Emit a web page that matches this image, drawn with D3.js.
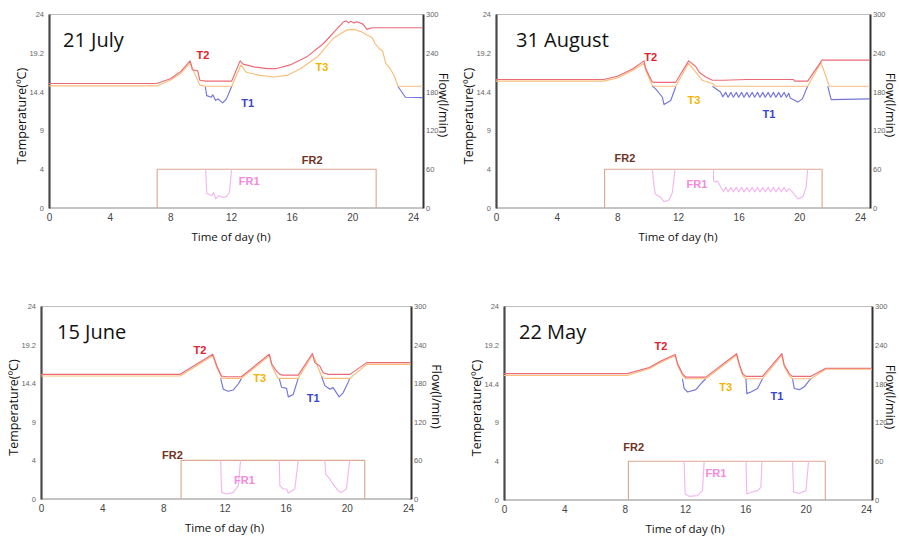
<!DOCTYPE html>
<html>
<head>
<meta charset="utf-8">
<script src="https://cdn.jsdelivr.net/npm/d3@7"></script>
<style>
  body { margin: 0; background: #fff; }
  svg { display: block; }
</style>
</head>
<body>
<svg id="chart" width="899" height="538"></svg>
<script>
// ---- shared ticks ----
const hourTicks = [0, 4, 8, 12, 16, 20, 24];
const tempTicks = [0, 4.8, 9.6, 14.4, 19.2, 24];
const tempTickLabels = ['0', '4', '9', '14.4', '19.2', '24'];
const flowTicks = [0, 60, 120, 180, 240, 300];

// ---- 21 July ----  [hour, value], null = gap
const julT2 = [[0,15.4],[7.1,15.4],[8,16.0],[8.7,16.9],[9.3,18.2],[9.4,17.6],[9.45,17.1],[9.8,17.0],[9.95,15.8],[10.3,15.7],[12.05,15.7],[12.6,18.2],[12.8,17.8],[13.5,17.46],[14.35,17.25],[15,17.25],[15.9,17.7],[17,18.7],[18.1,20.35],[19,22.2],[19.4,23.0],[19.6,23.15],[19.75,22.9],[19.9,23.1],[20.1,22.9],[20.3,23.05],[20.7,22.75],[20.96,22.1],[21.3,22.3],[24.65,22.3]];
const julT3 = [[0,15.1],[7.1,15.1],[8,15.8],[8.7,16.7],[9.3,17.9],[9.45,17.3],[9.95,15.2],[10.3,15.06],[12.05,15.06],[12.65,17.7],[13.0,16.8],[13.9,16.4],[14.8,16.2],[15.7,16.4],[16.6,17.25],[17.7,18.7],[18.75,21.0],[19.6,22.0],[20.1,22.1],[20.6,21.8],[20.96,21.4],[21.3,21.1],[21.5,20.35],[21.8,19.7],[22.0,19.4],[22.2,17.9],[22.5,17.25],[22.8,16.2],[23.0,15.06],[24.65,15.06]];
const julT1 = [[10.3,15.06],[10.4,13.9],[10.7,13.7],[10.8,14.0],[10.98,13.3],[11.15,13.5],[11.45,13.0],[11.7,13.5],[12.05,15.06],null,[23.0,15.06],[23.5,13.7],[24.65,13.65]];
const julFR2 = [[7.13,0],[7.13,60],[21.57,60],[21.57,0]];
const julFR1 = [[10.33,60],[10.4,22.8],[10.73,19],[10.84,24],[11.0,14],[11.2,19],[11.45,16.5],[11.7,17.5],[11.9,24],[12.04,60]];

// ---- 31 August ----
const augT2 = [[0,15.9],[7.1,15.9],[8,16.3],[9,17.2],[9.76,18.2],[9.87,17.25],[10.3,15.6],[10.4,15.55],[11.85,15.55],[12.7,18.2],[13.17,17.5],[13.4,16.8],[13.83,16.2],[14.27,15.8],[15,15.8],[16.5,15.9],[19.6,15.9],[19.7,15.7],[20.55,15.7],[21.5,18.3],[24.65,18.3]];
const augT3 = [[0,15.7],[7.1,15.7],[8,16.1],[9,17.0],[9.76,17.9],[9.87,17.0],[10.3,15.2],[10.4,15.06],[11.85,15.06],[12.7,17.9],[13.17,16.8],[13.6,15.8],[14.27,15.4],[14.5,15.06],[20.55,15.06],[21.43,18.0],[21.98,15.06],[24.65,15.06]];
const augT1 = [[10.3,15.06],[10.5,14.8],[10.97,13.7],[11.08,12.8],[11.52,13.3],[11.85,15.0],null,
  [14.27,15.06],[14.8,14.35],[14.95,13.75],[15.15,14.3],[15.3,13.7],[15.5,14.3],[15.65,13.7],[15.85,14.3],[16.0,13.7],[16.2,14.3],[16.35,13.7],[16.55,14.3],[16.7,13.7],[16.9,14.3],[17.05,13.7],[17.25,14.3],[17.4,13.7],[17.6,14.3],[17.75,13.7],[17.95,14.3],[18.1,13.7],[18.3,14.3],[18.45,13.7],[18.65,14.3],[18.8,13.7],[19.0,14.3],[19.15,13.7],[19.3,14.2],[19.4,13.6],[19.9,13.1],[20.2,13.5],[20.55,15.06],null,
  [21.87,15.06],[22.1,13.4],[24.65,13.5]];
const augFR2 = [[7.16,0],[7.16,60],[21.5,60],[21.5,0]];
const augFR1 = [[10.3,60],[10.4,37],[10.5,21.7],[10.85,16.5],[11.08,9.8],[11.41,12.4],[11.63,24],[11.8,60],null,
  [14.34,60],[14.34,42],[14.5,40],[14.6,42],[14.83,32],[15.0,25],[15.15,32],[15.3,25],[15.5,32],[15.65,25],[15.85,32],[16.0,25],[16.2,32],[16.35,25],[16.55,32],[16.7,25],[16.9,32],[17.05,25],[17.25,32],[17.4,25],[17.6,32],[17.75,25],[17.95,32],[18.1,25],[18.3,32],[18.45,25],[18.65,32],[18.8,25],[19.0,32],[19.15,25],[19.3,30],[19.5,26],[19.9,14],[20.23,17.6],[20.45,32],[20.55,60]];

// ---- 15 June ----
const junT2 = [[0,15.5],[9.1,15.5],[11.23,18.0],[11.5,16.55],[11.8,15.3],[12.1,15.2],[13.1,15.2],[14.93,18.0],[15.1,16.75],[15.4,15.9],[15.62,15.5],[15.8,15.4],[16.82,15.4],[17.75,18.1],[17.9,16.96],[18.23,16.55],[18.45,15.7],[18.78,15.5],[20.2,15.5],[21.3,16.96],[24.15,16.96]];
const junT3 = [[0,15.3],[9.1,15.3],[11.23,17.8],[11.5,16.3],[11.85,15.0],[13.1,15.0],[14.93,17.8],[15.1,16.5],[15.5,15.0],[16.82,15.0],[17.75,17.9],[17.9,17.4],[18.34,15.3],[18.56,15.0],[20.2,15.0],[21.3,16.75],[24.15,16.75]];
const junT1 = [[11.75,15.0],[11.92,13.65],[12.25,13.4],[12.58,13.56],[12.9,14.3],[13.12,15.0],null,
  [15.58,15.0],[15.73,13.9],[16.06,13.75],[16.17,12.7],[16.49,13.0],[16.82,15.0],null,
  [18.34,15.3],[18.56,14.1],[18.89,13.65],[19.1,13.85],[19.5,12.7],[19.76,13.2],[20.08,14.5],[20.19,15.0]];
const junFR2 = [[9.16,0],[9.16,60],[21.17,60],[21.17,0]];
const junFR1 = [[11.75,60],[11.81,10.3],[12.14,7.8],[12.58,10.3],[12.9,20.7],[13.05,60],null,
  [15.58,60],[15.62,20.7],[15.84,15.5],[16.06,15.5],[16.17,9.3],[16.6,15.5],[16.82,60],null,
  [18.56,60],[18.62,38.8],[18.89,31],[19.1,23],[19.43,12.9],[19.65,10.3],[19.97,15.5],[20.19,60]];

// ---- 22 May ----
const mayT2 = [[0,15.64],[8.18,15.64],[9.62,16.4],[10.5,17.3],[11.35,18.0],[11.5,16.9],[11.83,15.64],[12.05,15.2],[13.38,15.2],[15.42,18.1],[15.59,16.9],[15.82,15.64],[16.04,15.3],[17.14,15.3],[18.42,18.1],[18.58,16.7],[18.91,15.64],[19.13,15.3],[20.35,15.3],[21.34,16.3],[24.4,16.3]];
const mayT3 = [[0,15.4],[8.18,15.4],[9.62,16.25],[10.5,17.15],[11.35,17.85],[11.5,16.7],[11.83,15.4],[12.05,15.0],[13.38,15.0],[15.42,17.9],[15.59,16.7],[15.82,15.4],[16.04,15.0],[17.14,15.0],[18.42,17.9],[18.58,16.5],[18.91,15.4],[19.13,15.0],[20.35,15.0],[21.34,16.2],[24.4,16.2]];
const mayT1 = [[11.83,15.0],[11.94,13.8],[12.17,13.36],[12.72,13.65],[13.16,14.6],[13.38,15.0],null,
  [16.04,15.0],[16.1,13.16],[16.37,13.36],[16.81,13.8],[17.14,15.0],null,
  [19.13,15.0],[19.24,13.8],[19.58,13.65],[19.91,14.0],[20.24,14.8],[20.35,15.0]];
const mayFR2 = [[8.25,0],[8.25,60],[21.3,60],[21.3,0]];
const mayFR1 = [[11.94,60],[12.01,9.3],[12.28,5.7],[12.83,6.7],[13.16,14.5],[13.27,60],null,
  [16.04,60],[16.1,9.3],[16.37,11.9],[16.81,14.5],[17.03,19.7],[17.1,60],null,
  [19.13,60],[19.2,11.9],[19.58,10.3],[20.02,14.5],[20.19,60]];

// series label anchors [hour, value]
const julLabels = {T2:[10.15,18.9], T1:[13.1,13.0], T3:[18.0,17.4], FR2:[17.35,75], FR1:[13.2,42]};
const augLabels = {T2:[10.2,18.7], T3:[13.05,13.4], T1:[18.0,11.6], FR2:[8.5,77], FR1:[13.25,37]};
const junLabels = {T2:[10.4,18.5], T3:[14.3,15.0], T1:[17.8,12.5], FR2:[8.6,68], FR1:[13.3,30]};
const mayLabels = {T2:[10.4,19.05], T3:[14.7,14.0], T1:[18.1,12.9], FR2:[8.6,82], FR1:[14.05,42]};

const colors = {
  T1: '#7474dc', T2: '#ec6a78', T3: '#f8be78', FR1: '#f2b8ee', FR2: '#dca892'
};
const labelColors = {
  T1: '#3a44cc', T2: '#e2202e', T3: '#f4b400', FR1: '#f28ae0', FR2: '#6e3426'
};

// layout of each panel (pixels)
const panels = [
  {title:'21 July',   x0:49,  x24:413, right:423, top:14,  bottom:208, T1:julT1, T2:julT2, T3:julT3, FR1:julFR1, FR2:julFR2, labels:julLabels, tx:14, fx:20},
  {title:'31 August', x0:496, x24:860, right:870, top:14,  bottom:208, T1:augT1, T2:augT2, T3:augT3, FR1:augFR1, FR2:augFR2, labels:augLabels, tx:20, fx:20},
  {title:'15 June',   x0:41,  x24:408, right:411, top:306, bottom:499, T1:junT1, T2:junT2, T3:junT3, FR1:junFR1, FR2:junFR2, labels:junLabels, tx:16, fx:25},
  {title:'22 May',    x0:504, x24:866, right:872, top:306, bottom:500, T1:mayT1, T2:mayT2, T3:mayT3, FR1:mayFR1, FR2:mayFR2, labels:mayLabels, tx:15, fx:18}
];

const svg = d3.select('#chart');
const textFont = '"Open Sans", sans-serif';
const labelFont = '"Liberation Sans", Arial, sans-serif';

panels.forEach(p => {
  const g = svg.append('g');
  const x = d3.scaleLinear().domain([0, 24]).range([p.x0, p.x24]);
  const yT = d3.scaleLinear().domain([0, 24]).range([p.bottom, p.top]);
  const yF = d3.scaleLinear().domain([0, 300]).range([p.bottom, p.top]);

  // top border
  g.append('line')
    .attr('x1', p.x0).attr('x2', p.right)
    .attr('y1', p.top + 0.5).attr('y2', p.top + 0.5)
    .attr('stroke', '#bdbdbd').attr('stroke-width', 1);

  // bottom axis
  const xAxis = g.append('g')
    .attr('transform', 'translate(0,' + p.bottom + ')')
    .call(d3.axisBottom(x).tickValues(hourTicks).tickSize(0).tickPadding(6));
  xAxis.select('.domain').remove();
  xAxis.append('line')
    .attr('x1', p.x0).attr('x2', p.right)
    .attr('stroke', '#8a8a8a').attr('stroke-width', 1.2);
  xAxis.selectAll('text')
    .attr('font-family', labelFont).attr('font-size', 10).attr('fill', '#444');

  // left axis
  const lAxis = g.append('g')
    .attr('transform', 'translate(' + p.x0 + ',0)')
    .call(d3.axisLeft(yT).tickValues(tempTicks).tickSize(0).tickPadding(5)
      .tickFormat((d, i) => tempTickLabels[i]));
  lAxis.select('.domain').attr('stroke', '#4a4a4a').attr('stroke-width', 2.2);
  lAxis.selectAll('text')
    .attr('font-family', labelFont).attr('font-size', 7.5).attr('fill', '#666');

  // right axis
  const rAxis = g.append('g')
    .attr('transform', 'translate(' + p.right + ',0)')
    .call(d3.axisRight(yF).tickValues(flowTicks).tickSize(0).tickPadding(3));
  rAxis.select('.domain').attr('stroke', '#333').attr('stroke-width', 2);
  rAxis.selectAll('text')
    .attr('font-family', labelFont).attr('font-size', 7.5).attr('fill', '#666');

  const tLine = d3.line().defined(d => d).x(d => x(d[0])).y(d => yT(d[1]));
  const fLine = d3.line().defined(d => d).x(d => x(d[0])).y(d => yF(d[1]));

  const draw = (data, gen, key) => g.append('path')
    .datum(data)
    .attr('d', gen)
    .attr('fill', 'none')
    .attr('stroke', colors[key])
    .attr('stroke-width', 1.15)
    .attr('stroke-linejoin', 'round');

  draw(p.FR2, fLine, 'FR2');
  draw(p.FR1, fLine, 'FR1');
  draw(p.T1, tLine, 'T1');
  draw(p.T3, tLine, 'T3');
  draw(p.T2, tLine, 'T2');

  // series labels
  ['T1', 'T2', 'T3', 'FR1', 'FR2'].forEach(k => {
    const pos = p.labels[k];
    const yy = k.startsWith('FR') ? yF(pos[1]) : yT(pos[1]);
    g.append('text')
      .attr('x', x(pos[0])).attr('y', yy)
      .attr('text-anchor', 'middle').attr('dominant-baseline', 'central')
      .attr('font-family', labelFont).attr('font-weight', 'bold')
      .attr('font-size', 11).attr('fill', labelColors[k])
      .text(k);
  });

  // panel title
  g.append('text')
    .attr('x', p.x0 + p.tx).attr('y', p.top + 33)
    .attr('font-family', textFont).attr('font-size', 20).attr('fill', '#111')
    .text(p.title);

  const midY = (p.top + p.bottom) / 2;
  // axis titles
  g.append('text')
    .attr('transform', 'translate(' + (p.x0 - 28) + ',' + (midY + 5) + ') rotate(-90)')
    .attr('text-anchor', 'middle').attr('dominant-baseline', 'central')
    .attr('font-family', textFont).attr('font-size', 12.5).attr('fill', '#111')
    .text('Temperature(ºC)');
  g.append('text')
    .attr('transform', 'translate(' + (p.right + p.fx) + ',' + (midY - 6) + ') rotate(90)')
    .attr('text-anchor', 'middle').attr('dominant-baseline', 'central')
    .attr('font-family', textFont).attr('font-size', 12.5).attr('fill', '#111')
    .text('Flow(l/min)');
  g.append('text')
    .attr('x', (p.x0 + p.x24) / 2).attr('y', p.bottom + 33)
    .attr('text-anchor', 'middle')
    .attr('font-family', textFont).attr('font-size', 11.5).attr('fill', '#111')
    .text('Time of day (h)');
});
</script>
</body>
</html>
